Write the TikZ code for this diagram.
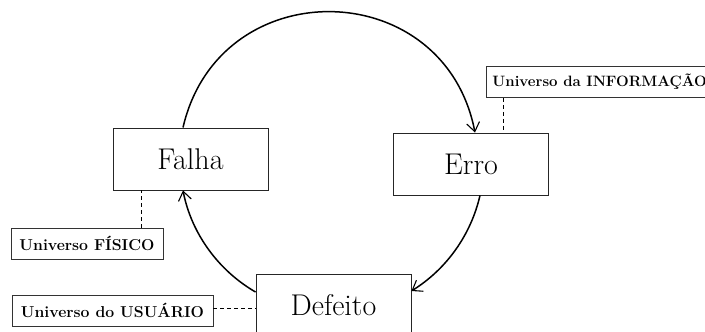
\documentclass[tikz,border=0pt]{standalone}
\usepackage{fontspec}
\usetikzlibrary{arrows.meta}
\begin{document}
\begin{tikzpicture}[x=1pt,y=1pt,
  bigbox/.style={draw=black!85, line width=0.9pt, minimum width=155pt, minimum height=62pt, inner sep=0pt,
    font=\fontsize{30}{34}\selectfont},
  labbox/.style={draw=black!80, line width=0.9pt, minimum height=31pt, inner sep=0pt,
    font=\fontsize{15.8}{18}\selectfont\bfseries},
  flow/.style={line width=1.5pt, -{Straight Barb[length=9pt,width=13pt,line width=1.1pt]}},
  link/.style={line width=0.7pt, dash pattern=on 4pt off 3pt}
]
\useasboundingbox (0,0) rectangle (705,-332);
\clip (0,0) rectangle (705,-332);

\node[bigbox] (falha) at (190.5,-159) {Falha};
\node[bigbox] (erro) at (471,-164) {Erro};
\node[bigbox] (defeito) at (333.5,-305) {Defeito};

\node[labbox, minimum width=152pt] (fisico) at (87,-243.5) {Universo FÍSICO};
\node[labbox, minimum width=201pt] (usuario) at (112.5,-310.5) {Universo do USUÁRIO};
\node[labbox, anchor=west, inner xsep=6pt, font=\fontsize{15}{18}\selectfont\bfseries] (informacao) at (486,-82) {Universo da INFORMAÇÃO};

\draw[flow] ([xshift=-7.5pt]falha.north) to[out=77,in=101,looseness=1.41] ([xshift=4pt]erro.north);
\draw[flow] ([xshift=9pt]erro.south) to[out=-103,in=32,looseness=0.89] ([yshift=14pt]defeito.east);
\draw[flow] ([yshift=13pt]defeito.west) to[out=150,in=-79,looseness=0.89] ([xshift=-7.5pt]falha.south);

\draw[link] ([xshift=17pt]informacao.south west) -- ([xshift=17pt]informacao.south west |- erro.north);
\draw[link] ([xshift=-22pt]fisico.north east) -- ([xshift=-22pt]fisico.north east |- falha.south);
\draw[link] ([yshift=2.5pt]usuario.east) -- ([yshift=2.5pt]usuario.east -| defeito.west);
\end{tikzpicture}
\end{document}
